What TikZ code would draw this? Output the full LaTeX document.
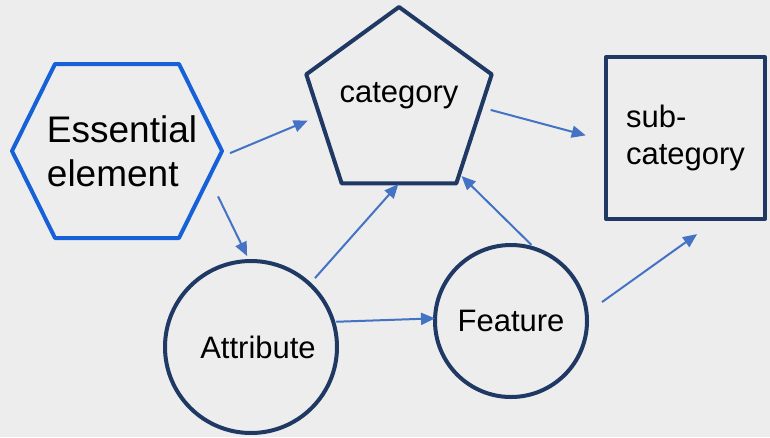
\documentclass[tikz,border=0pt]{standalone}
\usepackage{fontspec}
\setmainfont{Liberation Sans}
\usetikzlibrary{arrows.meta,shapes.geometric}
\definecolor{hexblue}{HTML}{1660D8}
\definecolor{navy}{HTML}{1F3864}
\definecolor{linkblue}{HTML}{4472C4}
\definecolor{bggray}{HTML}{EDEDED}
\begin{document}
\begin{tikzpicture}[x=1pt,y=-1pt,line join=round,>={Triangle[length=14pt,width=12pt]}]
	\tikzset{shp/.style={draw=navy,line width=4pt,inner sep=0pt,outer sep=0pt,font=\fontsize{31}{37}\selectfont},
		link/.style={->,color=linkblue,line width=2pt}}
	\fill[bggray] (0,0) rectangle (770,437);
	\useasboundingbox (0,0) rectangle (770,437);
	% shapes
	\node[minimum width=210pt,minimum height=174pt,inner sep=0pt,outer sep=0pt,align=left,font=\fontsize{37}{44}\selectfont] (ess) at (117,151) {\hspace*{10pt}Essential\\\hspace*{10pt}element};
	\draw[hexblue,line width=4pt] (ess.west) -- ([xshift=43pt]ess.north west) -- ([xshift=-43pt]ess.north east) -- (ess.east) -- ([xshift=-43pt]ess.south east) -- ([xshift=43pt]ess.south west) -- cycle;
	\node[regular polygon,regular polygon sides=5,minimum size=195pt,shp] (cat) at (399,104.5) {\smash{\makebox[0pt]{\raisebox{2pt}{category}}}};
	\node[rectangle,shp,minimum width=159pt,minimum height=162pt,align=left] (sub) at (685.5,138) {sub-\\category};
	\node[circle,shp,minimum size=172pt] (att) at (251,347) {\hspace*{14pt}Attribute};
	\node[circle,shp,minimum size=152pt] (feat) at (511,321) {Feature};
	% links
	\draw[link,shorten <=8.7pt,shorten >=13pt] (ess.-3) -- (cat.188);
	\draw[link,shorten <=-9pt,shorten >=5.5pt] (ess.-27.2) -- (att.91);
	\draw[link,shorten <=10pt,shorten >=21pt] (cat.-2.5) -- (sub.182);
	\draw[link,shorten <=8pt,shorten >=1pt] (att.47) -- (cat.south);
	\draw[link,shorten <=6pt,shorten >=3pt] (feat.71) -- (cat.-49);
	\draw[link,shorten <=3pt] (att.17.5) -- (feat.178);
	\draw[link,shorten <=19pt,shorten >=26pt] (feat.6) -- (sub.-68);
\end{tikzpicture}
\end{document}
